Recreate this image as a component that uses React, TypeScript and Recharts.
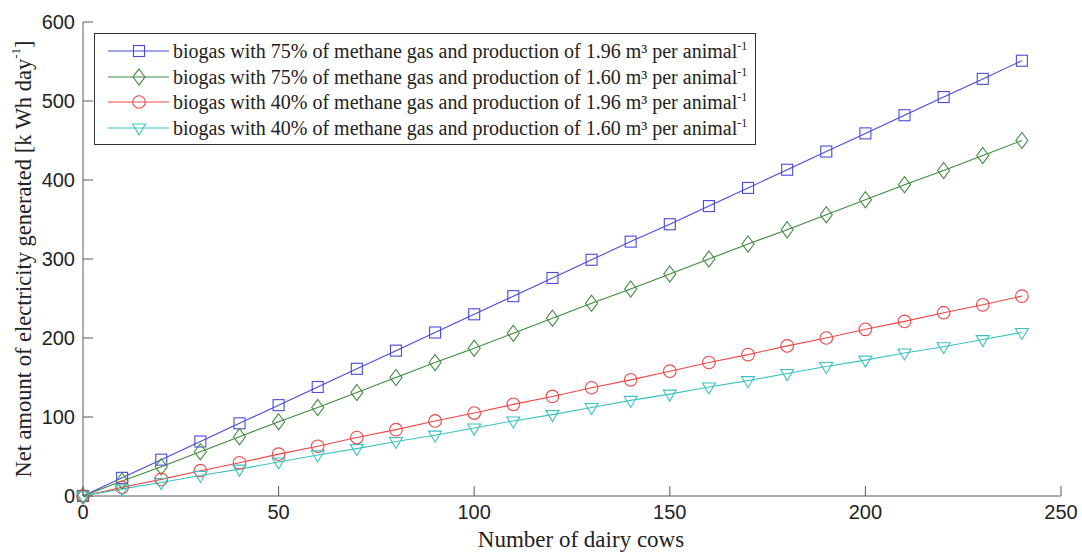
import { LineChart, Line, XAxis, YAxis, Legend } from 'recharts'

const cows = [0, 10, 20, 30, 40, 50, 60, 70, 80, 90, 100, 110, 120, 130, 140, 150, 160, 170, 180, 190, 200, 210, 220, 230, 240]

const ch4_75_196 = [0, 23, 46, 69, 92, 115, 138, 161, 184, 207, 230, 253, 276, 299, 322, 344, 367, 390, 413, 436, 459, 482, 505, 528, 551]
const ch4_75_160 = [0, 19, 37, 56, 75, 94, 112, 131, 150, 169, 187, 206, 225, 244, 262, 281, 300, 319, 337, 356, 375, 394, 412, 431, 450]
const ch4_40_196 = [0, 11, 21, 32, 42, 53, 63, 74, 84, 95, 105, 116, 126, 137, 147, 158, 169, 179, 190, 200, 211, 221, 232, 242, 253]
const ch4_40_160 = [0, 9, 17, 26, 34, 43, 52, 60, 69, 77, 86, 95, 103, 112, 121, 129, 138, 146, 155, 164, 172, 181, 189, 198, 207]

const xTicks = [0, 50, 100, 150, 200, 250]
const yTicks = [0, 100, 200, 300, 400, 500, 600]

const seriesKeys = ['a', 'b', 'c', 'd'] as const

const seriesNames = {
  a: 'biogas with 75% of methane gas and production of 1.96 m³ per animal',
  b: 'biogas with 75% of methane gas and production of 1.60 m³ per animal',
  c: 'biogas with 40% of methane gas and production of 1.96 m³ per animal',
  d: 'biogas with 40% of methane gas and production of 1.60 m³ per animal',
}

const colors = { a: '#4a4ade', b: '#3d8a3d', c: '#f04646', d: '#3cc2c2' }

const data = cows.map((c, i) => ({
  cows: c,
  a: ch4_75_196[i],
  b: ch4_75_160[i],
  c: ch4_40_196[i],
  d: ch4_40_160[i],
}))

const sans = '"Liberation Sans", Arial, sans-serif'
const serif = '"Liberation Serif", "Times New Roman", serif'
const axisColor = '#5a5a5a'

function Marker({ kind, cx, cy, stroke }: { kind: string; cx: number; cy: number; stroke: string }) {
  if (kind === 'a') return <rect x={cx - 5.5} y={cy - 5.5} width={11} height={11} fill="none" stroke={stroke} strokeWidth={1.1} />
  if (kind === 'b')
    return <polygon points={`${cx},${cy - 8} ${cx + 6},${cy} ${cx},${cy + 8} ${cx - 6},${cy}`} fill="none" stroke={stroke} strokeWidth={1.1} />
  if (kind === 'c') return <circle cx={cx} cy={cy} r={6.3} fill="none" stroke={stroke} strokeWidth={1.1} />
  return <polygon points={`${cx - 6.5},${cy - 4} ${cx + 6.5},${cy - 4} ${cx},${cy + 7}`} fill="none" stroke={stroke} strokeWidth={1.1} />
}

const dotFor = (kind: string) => (p: any) =>
  <Marker key={`${kind}-${p.index}`} kind={kind} cx={p.cx} cy={p.cy} stroke={colors[kind as keyof typeof colors]} />

function LegendBox(props: any) {
  const payload = [...(props.payload || [])].sort((p: any, q: any) =>
    String(p.dataKey).localeCompare(String(q.dataKey)),
  )
  return (
    <div
      style={{
        width: 662,
        height: 112,
        boxSizing: 'border-box',
        border: '1px solid #333',
        background: '#fff',
        padding: '4px 0',
        fontFamily: serif,
        fontSize: 20,
        lineHeight: '22px',
        color: '#222',
      }}
    >
      {payload.map((p: any) => (
        <div key={p.dataKey} style={{ height: 25.7, display: 'flex', alignItems: 'center', whiteSpace: 'nowrap' }}>
          <svg width={78} height={20} style={{ flex: 'none' }}>
            <line x1={13} x2={74} y1={10} y2={10} stroke={p.color} strokeWidth={1.1} />
            <Marker kind={p.dataKey} cx={44} cy={10} stroke={p.color} />
          </svg>
          <span>
            {p.value}
            <sup style={{ fontSize: 12, lineHeight: 0 }}>-1</sup>
          </span>
        </div>
      ))}
    </div>
  )
}

export default function App() {
  return (
    <div style={{ position: 'absolute', left: 0, top: 0, background: '#fff' }}>
      <LineChart width={1082} height={552} data={data} margin={{ top: 22, right: 21, bottom: 0, left: 0 }}>
        <XAxis
          dataKey="cows"
          type="number"
          domain={[0, 250]}
          ticks={xTicks}
          height={56}
          stroke={axisColor}
          tickSize={-10}
          tickMargin={19}
          tick={{ fill: '#222', fontSize: 20, fontFamily: sans }}
          label={{
            content: () => (
              <text x={581} y={547} textAnchor="middle" fontFamily={serif} fontSize={23} fill="#222">
                Number of dairy cows
              </text>
            ),
          }}
        />
        <XAxis
          xAxisId="top"
          orientation="top"
          type="number"
          domain={[0, 250]}
          ticks={xTicks}
          height={0}
          stroke={axisColor}
          tickSize={-10}
          tick={false}
        />
        <YAxis
          type="number"
          domain={[0, 600]}
          ticks={yTicks}
          width={83}
          stroke={axisColor}
          tickSize={-10}
          tickMargin={18}
          tick={{ fill: '#222', fontSize: 20, fontFamily: sans }}
          label={{
            content: () => (
              <text
                transform="translate(23,259) rotate(-90)"
                textAnchor="middle"
                dominantBaseline="central"
                fontFamily={serif}
                fontSize={22.5}
                fill="#222"
              >
                Net amount of electricity generated [k Wh day
                <tspan baselineShift="super" fontSize={13}>-1</tspan>
                <tspan>]</tspan>
              </text>
            ),
          }}
        />
        <YAxis
          yAxisId="right"
          orientation="right"
          type="number"
          domain={[0, 600]}
          ticks={yTicks}
          width={0}
          stroke={axisColor}
          tickSize={-10}
          tick={false}
        />
        <Legend
          layout="vertical"
          align="center"
          verticalAlign="middle"
          content={<LegendBox />}
          wrapperStyle={{ position: 'absolute', left: 94, top: 33, width: 662, height: 112 }}
        />
        {seriesKeys.map((k) => (
          <Line
            key={k}
            dataKey={k}
            name={seriesNames[k]}
            stroke={colors[k]}
            strokeWidth={1.1}
            dot={dotFor(k)}
            activeDot={false}
            isAnimationActive={false}
          />
        ))}
      </LineChart>
    </div>
  )
}
